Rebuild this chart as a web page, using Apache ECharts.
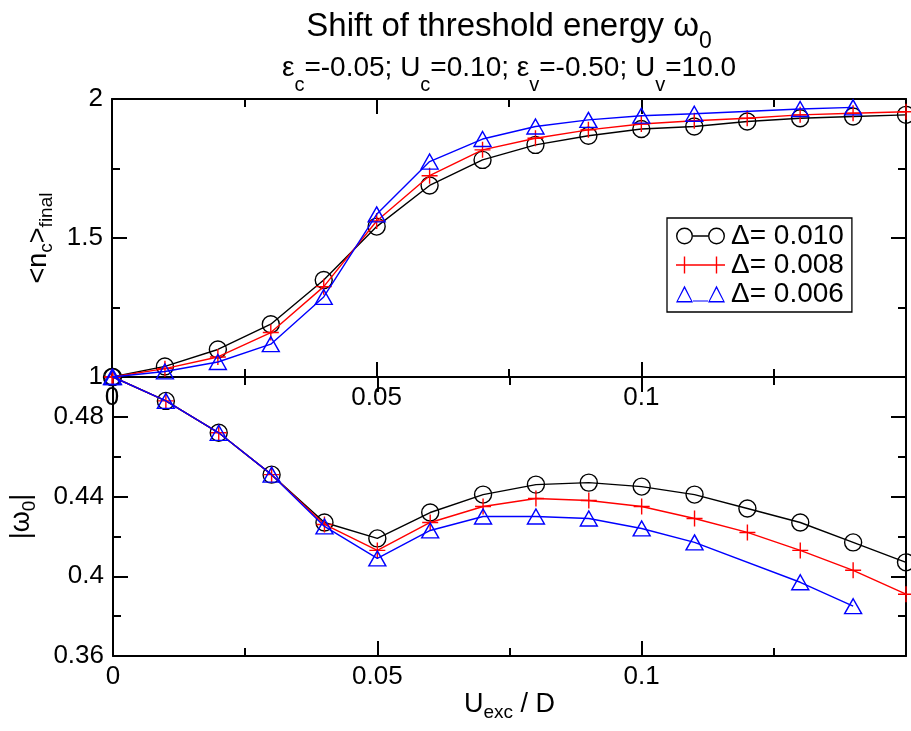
<!DOCTYPE html>
<html>
<head>
<meta charset="utf-8">
<script src="https://cdn.jsdelivr.net/npm/echarts@6/dist/echarts.min.js"></script>
<style>
  html, body { margin: 0; padding: 0; background: #fff; }
  #chart { width: 911px; height: 731px; }
</style>
</head>
<body>
<div id="chart"></div>
<script>
// Exchange interaction U_exc / D
var uExc = [0, 0.01, 0.02, 0.03, 0.04, 0.05, 0.06, 0.07, 0.08, 0.09, 0.10, 0.11, 0.12, 0.13, 0.14, 0.15];

// <n_c>_final for the three level widths
var nFinal010 = [1.0, 1.038, 1.099, 1.19, 1.349, 1.541, 1.689, 1.781, 1.835, 1.868, 1.892, 1.901, 1.919, 1.931, 1.937, 1.943];
var nFinal008 = [1.0, 1.03, 1.072, 1.16, 1.325, 1.561, 1.724, 1.817, 1.859, 1.889, 1.91, 1.922, 1.931, 1.943, 1.949, 1.954];
var nFinal006 = [1.0, 1.02, 1.054, 1.118, 1.288, 1.585, 1.775, 1.856, 1.901, 1.925, 1.94, 1.947, null, 1.964, 1.97, null];

// |omega_0| for the three level widths
var omega010 = [0.5, 0.488, 0.472, 0.451, 0.427, 0.419, 0.432, 0.441, 0.446, 0.447, 0.445, 0.441, 0.434, 0.427, 0.417, 0.407];
var omega008 = [0.5, 0.488, 0.472, 0.451, 0.426, 0.413, 0.427, 0.435, 0.439, 0.438, 0.435, 0.429, 0.422, 0.413, 0.403, 0.391];
var omega006 = [0.5, 0.488, 0.472, 0.451, 0.425, 0.409, 0.423, 0.43, 0.43, 0.429, 0.424, 0.417, null, 0.397, 0.385, null];

var seriesNames = ['\u0394= 0.010', '\u0394= 0.008', '\u0394= 0.006'];
var seriesColors = ['#000000', '#ff0000', '#0000ff'];

var FONT = 'Liberation Sans, Arial, Helvetica, sans-serif';

function pairs(ys) {
  return uExc.map(function (x, i) { return [x, ys[i]]; });
}

// marker shapes
var plusPath = 'path://M0 7.3H16V8.7H0Z M7.3 0H8.7V16H7.3Z';
var markerStyles = [
  { symbol: 'circle', symbolSize: 17, itemStyle: { color: 'rgba(0,0,0,0)', borderColor: '#000000', borderWidth: 1.4 } },
  { symbol: plusPath, symbolSize: 16, itemStyle: { color: '#ff0000', borderWidth: 0 } },
  { symbol: 'triangle', symbolSize: [17, 15], itemStyle: { color: 'rgba(0,0,0,0)', borderColor: '#0000ff', borderWidth: 1.4 } }
];

// legend icons: marker - line - marker
var legendIcons = [
  'path://M0 8.5A8.5 8.5 0 1 1 17 8.5A8.5 8.5 0 1 1 0 8.5Z M1.4 8.5A7.1 7.1 0 1 0 15.6 8.5A7.1 7.1 0 1 0 1.4 8.5Z ' +
  'M17 7.8H32V9.2H17Z ' +
  'M32 8.5A8.5 8.5 0 1 1 49 8.5A8.5 8.5 0 1 1 32 8.5Z M33.4 8.5A7.1 7.1 0 1 0 47.6 8.5A7.1 7.1 0 1 0 33.4 8.5Z',
  'path://M0 7.8H49V9.2H0Z M7.8 0H9.2V17H7.8Z M39.8 0H41.2V17H39.8Z',
  'path://M8.5 0L17 17H0Z M8.5 3.1L1.9 15.6H15.1Z ' +
  'M17 14.9H32V16.1H17Z ' +
  'M40.5 0L49 17H32Z M40.5 3.1L33.9 15.6H47.1Z'
];

function makeSeries(name, idx, ys, xi, yi) {
  var m = markerStyles[idx];
  return {
    name: name,
    type: 'line',
    xAxisIndex: xi,
    yAxisIndex: yi,
    data: pairs(ys),
    connectNulls: true,
    symbol: m.symbol,
    symbolSize: m.symbolSize,
    showAllSymbol: true,
    itemStyle: m.itemStyle,
    lineStyle: { color: seriesColors[idx], width: 1.4 },
    emphasis: { disabled: true },
    animation: false,
    clip: true,
    z: 2 + idx
  };
}

var tickFmt = function (v) { return String(Number(v.toFixed(3))); };

// main text + lowered subscript tokens
function richStyles(main, sub, drop) {
  return {
    t: { fontSize: main, fontFamily: FONT, fontWeight: 'normal', color: '#000' },
    s: { fontSize: sub, fontFamily: FONT, fontWeight: 'normal', color: '#000', padding: [drop, 0, 0, 0] }
  };
}

function xAxisPair(gridIndex, withName) {
  var base = {
    gridIndex: gridIndex,
    type: 'value',
    min: 0, max: 0.15, interval: 0.05,
    axisLine: { show: true, onZero: false, lineStyle: { color: '#000', width: 2 } },
    axisTick: { show: true, inside: true, length: 15, lineStyle: { color: '#000', width: 2 } },
    minorTick: { show: true, splitNumber: 2, length: 8, lineStyle: { color: '#000', width: 2 } },
    splitLine: { show: false },
    minorSplitLine: { show: false }
  };
  var bottom = Object.assign({}, base, {
    position: 'bottom',
    axisLabel: { show: true, margin: 8, fontSize: 26, color: '#000', fontFamily: FONT, showMaxLabel: false, formatter: tickFmt }
  });
  if (withName) {
    Object.assign(bottom, {
      name: '{t|U}{s|exc}{t| / D}',
      nameLocation: 'middle',
      nameGap: 29,
      nameTextStyle: { fontFamily: FONT, color: '#000', rich: richStyles(27, 19, 16) }
    });
  }
  var top = Object.assign({}, base, { position: 'top', axisLabel: { show: false } });
  return [bottom, top];
}

function yAxisPair(gridIndex, min, max, interval, name, nameGap) {
  var base = {
    gridIndex: gridIndex,
    type: 'value',
    min: min, max: max, interval: interval,
    axisLine: { show: true, onZero: false, lineStyle: { color: '#000', width: 2 } },
    axisTick: { show: true, inside: true, length: 15, lineStyle: { color: '#000', width: 2 } },
    minorTick: { show: true, splitNumber: 2, length: 8, lineStyle: { color: '#000', width: 2 } },
    splitLine: { show: false },
    minorSplitLine: { show: false }
  };
  var left = Object.assign({}, base, {
    position: 'left',
    axisLabel: {
      show: true, margin: 9, fontSize: 26, color: '#000', fontFamily: FONT,
      showMaxLabel: gridIndex === 0,
      formatter: tickFmt
    },
    name: name,
    nameLocation: 'middle',
    nameGap: nameGap,
    nameRotate: 90,
    nameTextStyle: { fontFamily: FONT, color: '#000', rich: richStyles(27, 19, 16) }
  });
  var right = Object.assign({}, base, { position: 'right', axisLabel: { show: false } });
  return [left, right];
}

var xs = xAxisPair(0, false).concat(xAxisPair(1, true));
var ys = yAxisPair(0, 1, 2, 0.5, '{t|<n}{s|c}{t|>}{s|final}', 50)
  .concat(yAxisPair(1, 0.36, 0.5, 0.04, '{t||\u03c9}{s|0}{t||}', 74));

var chart = echarts.init(document.getElementById('chart'), null, { renderer: 'canvas' });

chart.setOption({
  backgroundColor: '#ffffff',
  animation: false,
  title: [
    {
      text: '{t|Shift of threshold energy \u03c9}{s|0}',
      left: 509, top: 0, padding: 0, textAlign: 'center',
      textStyle: { fontWeight: 'normal', rich: richStyles(33, 23, 30) }
    },
    {
      text: '{t|\u03b5}{s|c}{t|=-0.05; U}{s|c}{t|=0.10; \u03b5}{s|v}{t|=-0.50; U}{s|v}{t|=10.0}',
      left: 509, top: 42, padding: 0, textAlign: 'center',
      textStyle: { fontWeight: 'normal', rich: richStyles(28, 20, 33) }
    }
  ],
  grid: [
    { left: 112, top: 99, width: 794, height: 278, show: false },
    { left: 112, top: 377, width: 794, height: 279, show: false }
  ],
  xAxis: xs,
  yAxis: ys,
  legend: {
    show: true,
    orient: 'vertical',
    left: 667, top: 218,
    padding: [4, 8, 4, 9],
    itemGap: 1,
    itemWidth: 49, itemHeight: 17,
    backgroundColor: '#ffffff',
    borderColor: '#000000',
    borderWidth: 1.3,
    borderRadius: 0,
    selectedMode: false,
    itemStyle: { borderWidth: 0 },
    textStyle: { fontSize: 28, lineHeight: 28, fontFamily: FONT, color: '#000', padding: [0, 0, 0, 1] },
    data: seriesNames.map(function (n, i) {
      return { name: n, icon: legendIcons[i], itemStyle: { color: seriesColors[i], borderWidth: 0 } };
    })
  },
  series: [
    makeSeries(seriesNames[0], 0, nFinal010, 0, 0),
    makeSeries(seriesNames[1], 1, nFinal008, 0, 0),
    makeSeries(seriesNames[2], 2, nFinal006, 0, 0),
    makeSeries(seriesNames[0], 0, omega010, 2, 2),
    makeSeries(seriesNames[1], 1, omega008, 2, 2),
    makeSeries(seriesNames[2], 2, omega006, 2, 2)
  ]
});
</script>
</body>
</html>
